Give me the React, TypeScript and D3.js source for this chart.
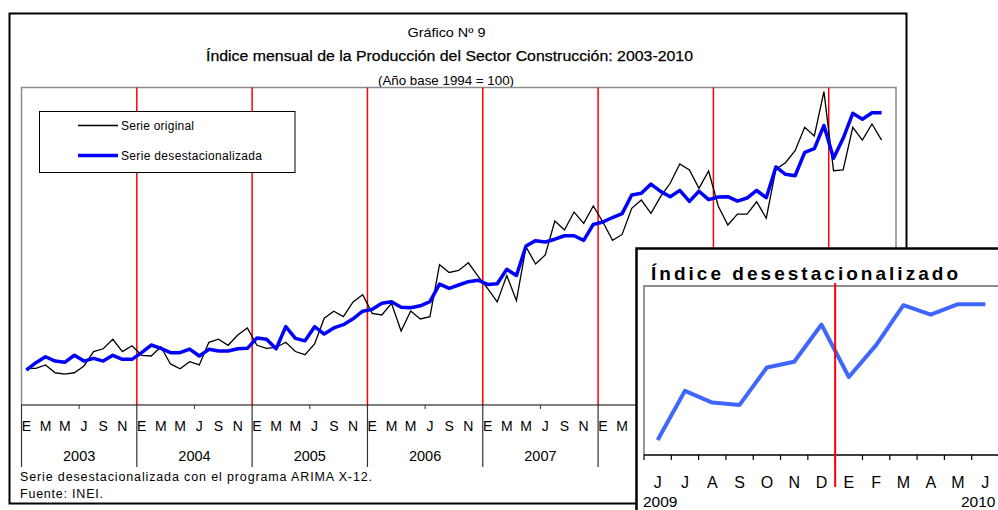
import React from "react";
import * as d3 from "d3";

// ---- DATA ----
const years = [2003, 2004, 2005, 2006, 2007, 2008, 2009, 2010];
const monthLetters = ["E", "F", "M", "A", "M", "J", "J", "A", "S", "O", "N", "D"];

// Serie original (Ene 2003 - Jun 2010)
const serieOriginal = [
  105.4, 105.4, 107.7, 102.3, 101.4, 102.3, 107.0, 116.9, 118.9, 125.5, 116.9, 121.0,
  114.4, 113.9, 120.3, 108.4, 105.1, 110.0, 107.7, 123.4, 125.5, 121.3, 128.4, 133.3,
  121.3, 119.2, 119.8, 123.4, 117.0, 114.8, 122.3, 140.0, 144.9, 141.1, 151.3, 156.3,
  143.4, 142.3, 150.4, 131.2, 145.0, 139.5, 141.1, 177.1, 171.7, 173.1, 178.4, 169.2,
  160.7, 151.3, 169.6, 152.2, 189.3, 177.5, 183.8, 207.3, 201.1, 213.5, 205.7, 217.7,
  206.6, 193.9, 198.0, 216.1, 221.8, 212.6, 224.1, 233.4, 246.7, 242.6, 229.9, 241.9,
  217.7, 204.5, 212.1, 212.1, 220.6, 209.2, 243.1, 247.6, 255.9, 272.1, 266.1, 296.8,
  242.1, 242.6, 272.1, 263.3, 274.4, 263.3,
];

// Serie desestacionalizada
const serieDesest = [
  104.2, 109.3, 113.4, 110.4, 109.5, 114.4, 110.4, 112.3, 110.4, 114.4, 111.6, 111.6,
  116.2, 121.5, 119.2, 116.2, 116.2, 118.7, 113.9, 118.5, 117.4, 117.4, 118.9, 119.2,
  126.4, 125.5, 118.9, 134.2, 126.1, 124.4, 134.2, 129.1, 133.3, 135.6, 139.6, 144.9,
  146.2, 150.4, 151.5, 147.6, 147.3, 148.6, 151.5, 163.6, 160.7, 163.0, 165.3, 166.3,
  163.4, 163.9, 173.9, 169.6, 190.0, 193.7, 192.8, 194.7, 197.1, 197.1, 193.9, 204.9,
  206.6, 209.7, 212.4, 225.3, 226.5, 232.8, 227.8, 224.1, 228.5, 220.9, 227.9, 222.1,
  223.9, 224.1, 221.1, 223.2, 228.4, 223.4, 244.7, 239.6, 238.6, 254.8, 257.3, 273.4,
  250.7, 264.5, 281.8, 277.7, 282.2, 282.2,
];

// Inset: Jun 2009 - Jun 2010
const insetLetters = ["J", "J", "A", "S", "O", "N", "D", "E", "F", "M", "A", "M", "J"];
const insetYears = ["2009", "2010"];

const legendLabels = ["Serie original", "Serie desestacionalizada"];

const FONT = "'Liberation Sans', Arial, sans-serif";
const NARROW = "'Liberation Sans Narrow', 'Liberation Sans', Arial, sans-serif";

export default function App() {
  const W = 998;
  const H = 510;

  // main chart
  const plotL = 21.5, plotT = 87.5, plotR = 896, axisY = 405;
  const nSlots = 91;
  const x = d3.scaleBand<number>().domain(d3.range(nSlots)).range([plotL, plotR]);
  const step = x.step();
  const cx = (i: number) => (x(i) as number) + step / 2;
  const y = d3.scaleLinear().domain([80, 300]).range([405, 87]);

  const line = d3
    .line<number>()
    .x((_, i) => cx(i))
    .y((d) => y(d));

  const yearStarts = years.map((_, k) => x(k * 12) as number);
  const yearEnd = (k: number) => (k < 7 ? (x((k + 1) * 12) as number) : plotR);

  // inset
  const insetVals = serieDesest.slice(serieDesest.length - 13);
  const iL = 644, iT = 286, iB = 455, iR = 999;
  const xi = d3.scaleBand<number>().domain(d3.range(13)).range([iL, iR]);
  const istep = xi.step();
  const icx = (i: number) => (xi(i) as number) + istep / 2;
  const yi = d3.scaleLinear().domain([216.9, 290.1]).range([iB, iT]);
  const iline = d3
    .line<number>()
    .x((_, i) => icx(i))
    .y((d) => yi(d));

  return (
    <svg
      width={W}
      height={H}
      style={{ position: "fixed", left: 0, top: 0, background: "#fff" }}
      fontFamily={FONT}
    >
      <rect x={0} y={0} width={W} height={H} fill="#fff" />
      {/* outer frame */}
      <rect x={9.5} y={13.5} width={897} height={490} fill="#fff" stroke="#000" strokeWidth={2} />

      {/* titles */}
      <text x={446.5} y={37} textAnchor="middle" fontSize={13.5} fontFamily={NARROW} textLength={78} lengthAdjust="spacingAndGlyphs">
        Gráfico Nº 9
      </text>
      <text x={449.5} y={61} textAnchor="middle" fontSize={15.5} fontFamily={NARROW} textLength={487} lengthAdjust="spacingAndGlyphs" stroke="#000" strokeWidth={0.25}>
        Índice mensual de la Producción del Sector Construcción: 2003-2010
      </text>
      <text x={446} y={85} textAnchor="middle" fontSize={13.5} fontFamily={NARROW} textLength={136} lengthAdjust="spacingAndGlyphs">
        (Año base 1994 = 100)
      </text>

      {/* plot area border */}
      <path d={`M${plotL},${axisY} V${plotT} H${plotR} V${axisY}`} fill="none" stroke="#8c8c8c" strokeWidth={1.5} />

      {/* red year separators */}
      {yearStarts.slice(1).map((xx, k) => (
        <line key={"r" + k} x1={xx} x2={xx} y1={plotT} y2={axisY} stroke="#ff0000" strokeWidth={1.5} />
      ))}

      {/* series */}
      <path d={line(serieOriginal) || ""} fill="none" stroke="#000" strokeWidth={1.3} strokeLinejoin="miter" />
      <path d={line(serieDesest) || ""} fill="none" stroke="#0000ff" strokeWidth={3.5} strokeLinejoin="round" />

      {/* axis */}
      <line x1={plotL} x2={636} y1={axisY} y2={axisY} stroke="#000" strokeWidth={1.2} />
      {yearStarts.map((xx, k) => (
        <line key={"yl" + k} x1={xx} x2={xx} y1={axisY} y2={467} stroke="#333" strokeWidth={1.2} />
      ))}
      {years.map((_, k) => (
        <line key={"mt" + k} x1={x(k * 12 + 6) as number} x2={x(k * 12 + 6) as number} y1={axisY} y2={409} stroke="#333" strokeWidth={1} />
      ))}
      {serieOriginal.map((_, i) =>
        i % 2 === 0 ? (
          <text key={"ml" + i} x={cx(i)} y={431} textAnchor="middle" fontSize={14}>
            {monthLetters[i % 12]}
          </text>
        ) : null
      )}
      {years.map((yr, k) => (
        <text key={"yr" + k} x={(yearStarts[k] + yearEnd(k)) / 2} y={461} textAnchor="middle" fontSize={14.5}>
          {yr}
        </text>
      ))}

      {/* footnotes */}
      <text x={20} y={481} fontSize={12.5} textLength={352} lengthAdjust="spacing">Serie desestacionalizada con el programa ARIMA X-12.</text>
      <text x={20} y={498} fontSize={12.5} textLength={83} lengthAdjust="spacing">Fuente: INEI.</text>

      {/* legend */}
      <rect x={39.5} y={111.5} width={255.5} height={61} fill="#fff" stroke="#000" strokeWidth={1} />
      <line x1={78} x2={118} y1={125.5} y2={125.5} stroke="#000" strokeWidth={1.3} />
      <text x={121} y={130} fontSize={12} textLength={73} lengthAdjust="spacing">{legendLabels[0]}</text>
      <line x1={78} x2={118} y1={155.5} y2={155.5} stroke="#0000ff" strokeWidth={3.5} />
      <text x={121} y={160} fontSize={12} textLength={141} lengthAdjust="spacing">{legendLabels[1]}</text>

      {/* inset */}
      <rect x={636.5} y={248.5} width={400} height={300} fill="#fff" stroke="#000" strokeWidth={2.5} />
      <text x={651} y={280} fontSize={19} fontWeight="bold" textLength={307} lengthAdjust="spacing">
        Índice desestacionalizado
      </text>
      <path d={`M${iL},${iB} V${iT} H${iR + 5}`} fill="none" stroke="#8c8c8c" strokeWidth={1.8} />
      <line x1={iL} x2={iR + 5} y1={iB} y2={iB} stroke="#000" strokeWidth={1.5} />
      {d3.range(14).map((k) => {
        const xx = k < 13 ? (xi(k) as number) : iR;
        return <line key={"it" + k} x1={xx} x2={xx} y1={iB} y2={460} stroke="#000" strokeWidth={1.2} />;
      })}
      <path d={iline(insetVals) || ""} fill="none" stroke="#3f67ff" strokeWidth={4} strokeLinejoin="round" />
      <line x1={xi(7) as number} x2={xi(7) as number} y1={283} y2={487} stroke="#ff0000" strokeWidth={2} />
      {insetLetters.map((l, i) => (
        <text key={"il" + i} x={icx(i)} y={488} textAnchor="middle" fontSize={16}>
          {l}
        </text>
      ))}
      <text x={643} y={507} fontSize={15.5}>{insetYears[0]}</text>
      <text x={961} y={507} fontSize={15.5}>{insetYears[1]}</text>
    </svg>
  );
}
